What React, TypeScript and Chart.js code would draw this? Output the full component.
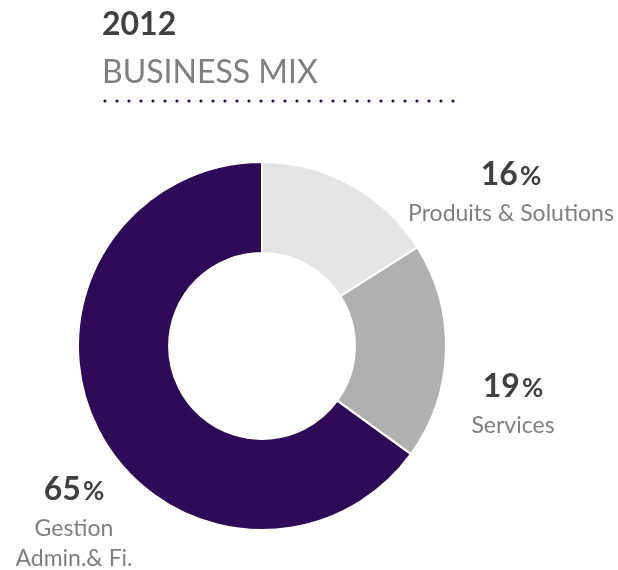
import React, { useEffect, useRef } from "react";
import { Chart, registerables } from "chart.js";

Chart.register(...registerables);

const YEAR = "2012";
const SUBTITLE = "BUSINESS MIX";
const CATEGORIES = ["Produits & Solutions", "Services", "Gestion\nAdmin.& Fi."];
const VALUES = [16, 19, 65];
const COLORS = ["#e4e4e4", "#b0b0b0", "#2d0b57"];
// label anchor: center x, baseline of the percentage
const LABEL_POS = [
  { x: 511, y: 185 },
  { x: 513, y: 397 },
  { x: 74, y: 500 },
];

const FONT = "Lato, 'Open Sans', sans-serif";
const DARK = "#404040";
const GRAY = "#7f7f7f";

const textPlugin = {
  id: "customText",
  afterDraw(chart: any) {
    const ctx = chart.ctx as CanvasRenderingContext2D;
    ctx.save();
    // title
    ctx.textBaseline = "alphabetic";
    ctx.textAlign = "left";
    ctx.fillStyle = DARK;
    ctx.font = `bold 32px ${FONT}`;
    ctx.fillText(YEAR, 102, 35);
    ctx.fillStyle = GRAY;
    ctx.font = `32px ${FONT}`;
    ctx.fillText(SUBTITLE, 102, 83);
    // dotted rule
    ctx.fillStyle = "#2d0b57";
    for (let x = 105; x <= 454; x += 12) {
      ctx.beginPath();
      ctx.arc(x, 101, 1.6, 0, Math.PI * 2);
      ctx.fill();
    }
    // data labels
    VALUES.forEach((v, i) => {
      const p = LABEL_POS[i];
      const num = String(v);
      ctx.font = `bold 32px ${FONT}`;
      const wNum = ctx.measureText(num).width;
      ctx.font = `bold 26px ${FONT}`;
      const wPct = ctx.measureText("%").width;
      const gap = 2;
      const start = p.x - (wNum + wPct + gap) / 2;
      ctx.textAlign = "left";
      ctx.fillStyle = DARK;
      ctx.font = `bold 32px ${FONT}`;
      ctx.fillText(num, start, p.y);
      ctx.font = `bold 26px ${FONT}`;
      ctx.fillText("%", start + wNum + gap, p.y);
      ctx.textAlign = "center";
      ctx.fillStyle = GRAY;
      ctx.font = `23px ${FONT}`;
      CATEGORIES[i].split("\n").forEach((line, j) => {
        ctx.fillText(line, p.x, p.y + 36 + j * 30);
      });
    });
    ctx.restore();
  },
};

export default function App() {
  const ref = useRef<HTMLCanvasElement>(null);
  useEffect(() => {
    if (!ref.current) return;
    const chart = new Chart(ref.current, {
      type: "doughnut",
      data: {
        labels: CATEGORIES,
        datasets: [
          {
            data: VALUES,
            backgroundColor: COLORS,
            borderColor: "#ffffff",
            borderWidth: 2,
            hoverOffset: 0,
          },
        ],
      },
      options: {
        responsive: false,
        animation: false,
        devicePixelRatio: 1,
        cutout: "50.5%",
        layout: { padding: { left: 77, right: 171, top: 161, bottom: 39 } },
        plugins: {
          legend: { display: false },
          tooltip: { enabled: false },
          title: { display: false },
        },
      },
      plugins: [textPlugin],
    });
    return () => chart.destroy();
  }, []);
  return (
    <div style={{ position: "absolute", left: 0, top: 0, width: 618, height: 570, background: "#fff" }}>
      <canvas ref={ref} width={618} height={570} style={{ width: 618, height: 570, display: "block" }} />
    </div>
  );
}
